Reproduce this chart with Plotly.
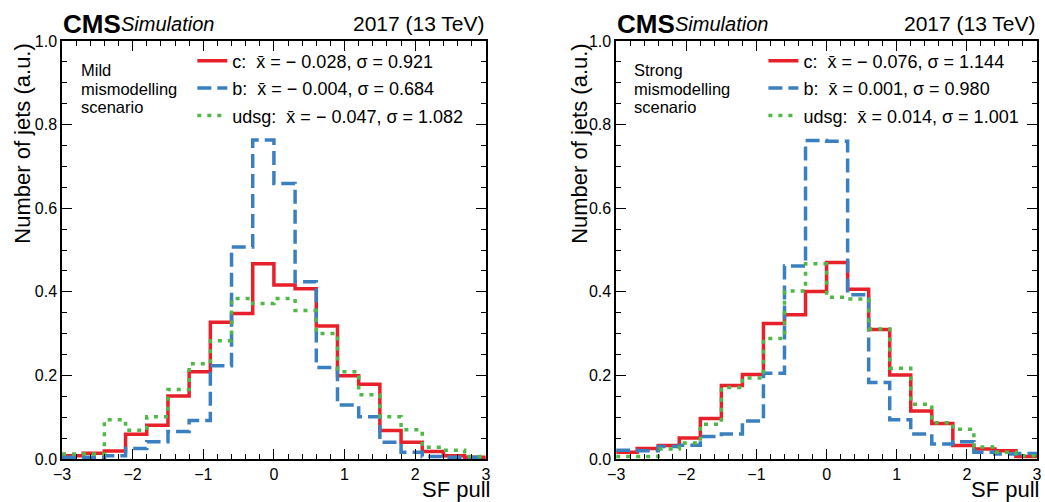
import plotly.graph_objects as go

# ---------------- data ----------------
bin_edges = [-3.0, -2.7, -2.4, -2.1, -1.8, -1.5, -1.2, -0.9, -0.6, -0.3, 0.0,
             0.3, 0.6, 0.9, 1.2, 1.5, 1.8, 2.1, 2.4, 2.7, 3.0]

# Mild mismodelling scenario
mild_c = [0.008, 0.014, 0.019, 0.059, 0.081, 0.151, 0.209, 0.327, 0.348, 0.467,
          0.416, 0.407, 0.318, 0.199, 0.179, 0.068, 0.040, 0.018, 0.008, 0.004]
mild_b = [0.004, 0.004, 0.008, 0.025, 0.041, 0.066, 0.092, 0.223, 0.507, 0.763,
          0.659, 0.424, 0.219, 0.129, 0.101, 0.040, 0.016, 0.006, 0.004, 0.004]
mild_udsg = [0.012, 0.012, 0.094, 0.069, 0.101, 0.166, 0.228, 0.283, 0.384, 0.372,
             0.384, 0.355, 0.300, 0.209, 0.154, 0.101, 0.070, 0.028, 0.021, 0.006]

# Strong mismodelling scenario
strong_c = [0.016, 0.025, 0.032, 0.050, 0.097, 0.176, 0.202, 0.324, 0.345, 0.401,
            0.470, 0.406, 0.310, 0.201, 0.115, 0.085, 0.032, 0.024, 0.020, 0.006]
strong_b = [0.021, 0.020, 0.030, 0.033, 0.054, 0.060, 0.091, 0.205, 0.462, 0.762,
            0.760, 0.393, 0.183, 0.094, 0.060, 0.036, 0.041, 0.016, 0.012, 0.013]
strong_udsg = [0.006, 0.006, 0.024, 0.038, 0.083, 0.171, 0.194, 0.288, 0.402, 0.467,
               0.387, 0.383, 0.311, 0.217, 0.131, 0.087, 0.071, 0.029, 0.016, 0.008]

mild_labels = ["c:\u00a0\u00a0x\u0304 = \u2212 0.028, \u03c3 = 0.921",
               "b:\u00a0\u00a0x\u0304 = \u2212 0.004, \u03c3 = 0.684",
               "udsg:\u00a0\u00a0x\u0304 = \u2212 0.047, \u03c3 = 1.082"]
strong_labels = ["c:\u00a0\u00a0x\u0304 = \u2212 0.076, \u03c3 = 1.144",
                 "b:\u00a0\u00a0x\u0304 = 0.001, \u03c3 = 0.980",
                 "udsg:\u00a0\u00a0x\u0304 = 0.014, \u03c3 = 1.001"]

scenario_text = [["Mild", "mismodelling", "scenario"],
                 ["Strong", "mismodelling", "scenario"]]

x_ticks = [-3, -2, -1, 0, 1, 2, 3]
y_ticks = [0.0, 0.2, 0.4, 0.6, 0.8, 1.0]

# ---------------- styles ----------------
FONT = "Liberation Sans, Arial, sans-serif"
colors = ["#e8202a", "#3a80c0", "#50b848"]
dashes = ["solid", "14px,6px", "4px,6px"]
LW = 3.5

W, H = 1045, 502
ML, MR, MT, MB = 62, 3, 41, 43
PW = W - ML - MR
PH = H - MT - MB


def px_x(p):
    return (p - ML) / PW


def px_y(p):
    return (H - MB - p) / PH


fig = go.Figure()

panels = [
    ("x", "y", [mild_c, mild_b, mild_udsg], mild_labels, "legend"),
    ("x2", "y2", [strong_c, strong_b, strong_udsg], strong_labels, "legend2"),
]
for xa, ya, series, labels, leg in panels:
    for vals, lab, col, dsh in zip(series, labels, colors, dashes):
        fig.add_trace(go.Scatter(
            x=bin_edges, y=vals + [vals[-1]], mode="lines",
            line=dict(shape="hv", color=col, width=LW, dash=dsh),
            name=lab, xaxis=xa, yaxis=ya, legend=leg, legendgroup=lab,
        ))

axis_common = dict(
    showline=True, linecolor="black", linewidth=1.5, mirror="allticks",
    ticks="inside", ticklen=10, tickwidth=1.2, tickcolor="black",
    showgrid=False, zeroline=False,
    tickfont=dict(family=FONT, size=16, color="black"),
)
xdom1 = [0, px_x(488)]
xdom2 = [px_x(619), 1]

minor_x = dict(dtick=0.2, ticklen=5, tickwidth=1, tickcolor="black", ticks="inside")
minor_y = dict(dtick=0.05, ticklen=5, tickwidth=1, tickcolor="black", ticks="inside")

legend_common = dict(xanchor="left", yanchor="top", bgcolor="rgba(0,0,0,0)",
                     font=dict(family=FONT, size=18, color="black"),
                     itemwidth=30, tracegroupgap=1, traceorder="grouped")

fig.update_layout(
    width=W, height=H,
    margin=dict(l=ML, r=MR, t=MT, b=MB),
    paper_bgcolor="white", plot_bgcolor="white",
    font=dict(family=FONT, color="black"),
    xaxis=dict(domain=xdom1, range=[-3, 3], tickvals=x_ticks, anchor="y",
               minor=minor_x, **axis_common),
    yaxis=dict(domain=[0, 1], range=[0, 1], tickvals=y_ticks, tickformat=".1f", anchor="x",
               minor=minor_y, **axis_common),
    xaxis2=dict(domain=xdom2, range=[-3, 3], tickvals=x_ticks, anchor="y2",
                minor=minor_x, **axis_common),
    yaxis2=dict(domain=[0, 1], range=[0, 1], tickvals=y_ticks, tickformat=".1f", anchor="x2",
                minor=minor_y, **axis_common),
    legend=dict(x=px_x(193), y=px_y(42.5), **legend_common),
    legend2=dict(x=px_x(767), y=px_y(42.5), **legend_common),
    showlegend=True,
)

annotations = []
for dom, ytitle_px in [(xdom1, 22), (xdom2, 582)]:
    left_px = ML + dom[0] * PW
    right_px = ML + dom[1] * PW
    annotations.append(dict(x=px_x(left_px - 1), y=px_y(24), xref="paper", yref="paper",
                            xanchor="left", yanchor="middle", showarrow=False,
                            text="<b>CMS</b>", font=dict(family=FONT, size=26, color="black")))
    annotations.append(dict(x=px_x(left_px + 57), y=px_y(24), xref="paper", yref="paper",
                            xanchor="left", yanchor="middle", showarrow=False,
                            text="<i>Simulation</i>", font=dict(family=FONT, size=20, color="black")))
    annotations.append(dict(x=px_x(right_px + 1), y=px_y(24), xref="paper", yref="paper",
                            xanchor="right", yanchor="middle", showarrow=False,
                            text="2017 (13 TeV)", font=dict(family=FONT, size=21, color="black")))
    annotations.append(dict(x=px_x(min(right_px + 6, W + 1)), y=px_y(489), xref="paper", yref="paper",
                            xanchor="right", yanchor="middle", showarrow=False,
                            text="SF pull", font=dict(family=FONT, size=22, color="black")))
    annotations.append(dict(x=px_x(ytitle_px), y=1, xref="paper", yref="paper",
                            xanchor="center", yanchor="top", showarrow=False, textangle=-90,
                            text="Number of jets (a.u.)", font=dict(family=FONT, size=22, color="black")))

for lines, txt_px in zip(scenario_text, [79, 635]):
    for i, line in enumerate(lines):
        annotations.append(dict(x=px_x(txt_px), y=px_y(70 + 18.5 * i), xref="paper", yref="paper",
                                xanchor="left", yanchor="middle", showarrow=False,
                                text=line, font=dict(family=FONT, size=16.5, color="black")))

fig.update_layout(annotations=annotations)

fig.write_html(
    "out.html",
    config={"displayModeBar": False},
    post_script="document.body.style.margin='0';document.body.style.padding='0';"
                "document.body.style.overflow='hidden';",
)
